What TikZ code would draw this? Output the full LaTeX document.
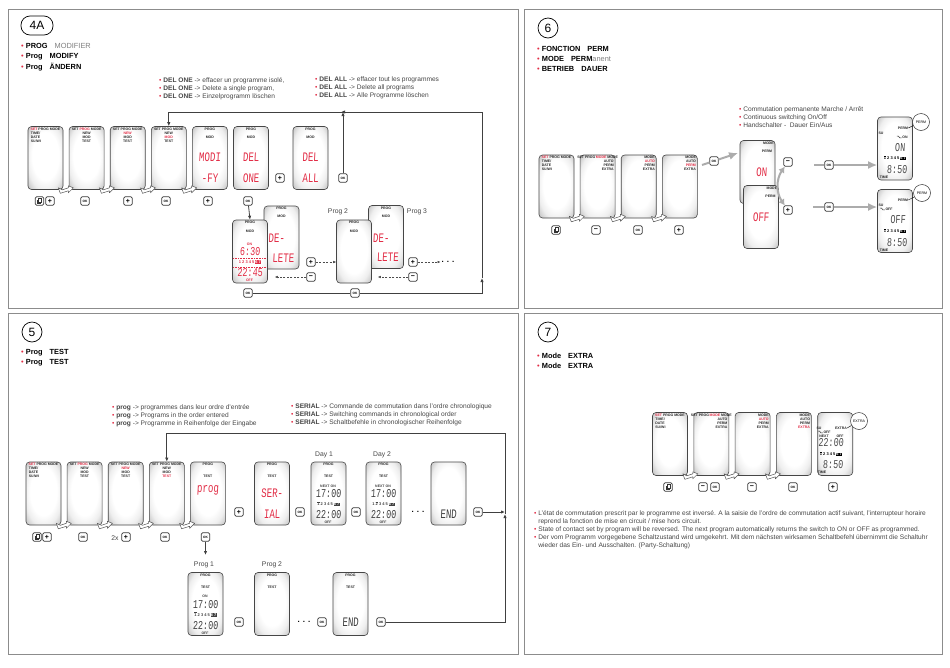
\documentclass[tikz,border=0pt]{standalone}
\usepackage{fontspec}
\setmainfont{Liberation Sans}
\newfontfamily\lcdFont[FakeStretch=0.7,FakeSlant=0.05]{Liberation Mono}
\usetikzlibrary{arrows.meta, positioning, calc, shapes.geometric}
\definecolor{lcdRed}{RGB}{226, 45, 70}
\definecolor{cText}{RGB}{70, 70, 70}
\definecolor{cFrame}{RGB}{140, 140, 140}
\definecolor{cEdgeA}{RGB}{238, 238, 238}
\definecolor{cEdgeB}{RGB}{205, 205, 205}
\definecolor{cEdgeC}{RGB}{125, 125, 125}
\pgfdeclareradialshading{lcdShade}{\pgfpoint{0bp}{3bp}}{color(0bp)=(white); color(19bp)=(white); color(27bp)=(cEdgeA); color(33bp)=(cEdgeB); color(42bp)=(cEdgeC)}
\newcommand{\redDot}{\textcolor{lcdRed}{\textbullet}\ }
\newcommand{\hot}[1]{\textcolor{lcdRed}{#1}}
\newcommand{\markDay}[1]{\leavevmode\rlap{\raisebox{3.4pt}{\rule{2.2pt}{0.6pt}}}#1}
\newcommand{\weekEnd}[1]{{\setlength{\fboxsep}{0.25pt}\colorbox{#1}{\textcolor{white}{6 7}}}}
\tikzset{
    % ecran
    lcdScreen/.style={
        rectangle, draw=gray!55!black, line width=0.6pt, rounded corners=3.5pt,
        minimum width=35pt, minimum height=63pt, inner sep=0pt,
        shade, shading=lcdShade
    },
    % petits textes
    lcdTiny/.style={
        inner sep=0pt, align=center, text=black!85,
        font=\fontsize{3.5}{4}\selectfont\bfseries
    },
    lcdDigit/.style={
        inner sep=0pt, text=lcdRed, font=\lcdFont\fontsize{13}{14}\selectfont
    },
    lcdClockDigit/.style={
        inner sep=0pt, font=\lcdFont\fontsize{12}{13}\selectfont
    },
    lcdDays/.style={
        inner sep=0pt, font=\fontsize{4}{4}\selectfont\bfseries
    },
    % touches
    keyBtn/.style={
        rectangle, draw=gray!45!black, line width=0.7pt, rounded corners=1.3pt, fill=white,
        minimum size=8.5pt, inner sep=0pt, font=\fontsize{3.2}{4}\selectfont\bfseries
    },
    keyBig/.style={keyBtn, font=\fontsize{7}{7}\selectfont\bfseries},
    % textes
    headNode/.style={
        anchor=west, align=left, inner sep=0pt, font=\fontsize{7.4}{10.2}\selectfont
    },
    noteNode/.style={
        anchor=north west, align=left, inner sep=0pt, text=cText,
        font=\fontsize{6.6}{8}\selectfont
    },
    labelNode/.style={inner sep=0pt, text=cText, font=\fontsize{6.8}{7}\selectfont},
    dotsNode/.style={inner sep=1pt, font=\fontsize{8}{8}\selectfont\bfseries},
    panelBox/.style={draw=cFrame, line width=1pt},
    badgeNode/.style={draw=black, line width=0.7pt, fill=white, inner sep=0pt, font=\fontsize{12}{12}\selectfont},
    bubbleNode/.style={circle, draw=gray!40!black, line width=0.5pt, fill=white, minimum size=17pt, inner sep=0pt, font=\rmfamily\fontsize{3.6}{4}\selectfont},
    % fleches
    flow/.style={line width=0.8pt, draw=black!75},
    flowTip/.style={flow, -{Latex[length=4pt,width=3.4pt]}},
    dashFlow/.style={line width=0.5pt, draw=gray!60!black, dashed, dash pattern=on 2pt off 1.5pt, -{Latex[length=3pt,width=2.6pt]}},
    fatLine/.style={line width=2pt, draw=gray!65},
    fatTip/.style={fatLine, -{Latex[length=9pt,width=8pt]}},
    % fleche creuse entre deux ecrans
    hopArrow/.pic={
        \draw[fill=white, draw=gray!65!black, line width=0.5pt, line join=round]
            (-5,-2) -- (-3,3.5) -- (5,1) -- (5,3) -- (10,-2) -- (5,-4) -- (5,-2) -- (-1,0) -- cycle;
    }
}
% menus
\newcommand{\setMenu}[1]{
    \node[lcdTiny, anchor=north] (#1Top) at ($(#1.north)+(0,1.2)$) {\hot{SET} PROG MODE};
    \node[lcdTiny, anchor=north west, align=left] (#1List) at ($(#1.north west)+(3,5.2)$) {TIME/\\DATE\\SU/WI};
}
\newcommand{\progMenu}[3]{
    \node[lcdTiny, anchor=north] (#1Top) at ($(#1.north)+(0,1.2)$) {SET #2 MODE};
    \node[lcdTiny, anchor=north] (#1List) at ($(#1.north)+(0,5.2)$) {#3};
}
\newcommand{\modeMenu}[3]{
    \node[lcdTiny, anchor=north east] (#1Top) at ($(#1.north east)+(-1.5,1.2)$) {#2};
    \node[lcdTiny, anchor=north east, align=right] (#1List) at ($(#1.north east)+(-1.5,5.2)$) {#3};
}
\newcommand{\progTag}[3]{
    \node[lcdTiny] (#1Tag) at ($(#1.north)+(0,2.8)$) {PROG};
    \node[lcdTiny] (#1Sub) at ($(#1.north)+(0,#3)$) {#2};
}
% affichage horaire
\newcommand{\clockFace}[6]{
    \node[lcdTiny, text=#2] (#1On) at ($(#1)+(-0.5,-7.5)$) {#3};
    \node[lcdClockDigit, text=#2] (#1Up) at ($(#1)+(0,0.5)$) {#4};
    \node[lcdDays, text=#2] (#1Days) at ($(#1)+(0,10.5)$) {#5\,\weekEnd{#2}};
    \node[lcdClockDigit, text=#2] (#1Low) at ($(#1)+(0,21.5)$) {#6};
    \node[lcdTiny, text=#2] (#1Off) at ($(#1)+(-0.5,28.8)$) {OFF};
}
\newcommand{\copyKey}[2]{
    \node[keyBtn] (#1) at #2 {};
    \draw[line width=0.5pt, draw=black!80] ($(#1)+(-2,-1)$) rectangle ($(#1)+(1,2.4)$);
    \draw[line width=0.5pt, draw=black!80, fill=white] ($(#1)+(-1,-2.4)$) rectangle ($(#1)+(2,1)$);
}
\newcommand{\switchMark}[1]{
    \draw[line width=0.5pt, draw=black!80] ($(#1.west)+(-0.5,0.8)$) -- ++(-2,0) -- ++(-1.2,-1.6) -- ++(-1.5,0);
}

\begin{document}
\begin{tikzpicture}[x=1pt, y=-1pt]
	\useasboundingbox (0,0) rectangle (950,667);
	\fill[white] (0,0) rectangle (950,667);

	% cadres
	\draw[panelBox] (8,9) rectangle (518,308);
	\draw[panelBox] (524,9) rectangle (942,308);
	\draw[panelBox] (8,313) rectangle (518,654);
	\draw[panelBox] (524,313) rectangle (942,654);

	%%%%% 4A

	\node[badgeNode, rectangle, rounded corners=9pt, minimum width=32pt, minimum height=19pt] (badgeA) at (37,25.5) {4A};
	\node[headNode] (headA) at (21,57) {
		\redDot\textbf{PROG}\hspace{7pt}\textcolor{gray}{MODIFIER}\\
		\redDot\textbf{Prog}\hspace{7pt}\textbf{MODIFY}\\
		\redDot\textbf{Prog}\hspace{7pt}\textbf{ÄNDERN}
	};
	\node[noteNode] (noteOne) at (159,77) {
		\redDot\textbf{DEL ONE} -> effacer un programme isolé,\\
		\redDot\textbf{DEL ONE} -> Delete a single program,\\
		\redDot\textbf{DEL ONE} -> Einzelprogramm löschen
	};
	\node[noteNode] (noteAll) at (315,77) {
		\redDot\textbf{DEL ALL} -> effacer tout les programmes\\
		\redDot\textbf{DEL ALL} -> Delete all programs\\
		\redDot\textbf{DEL ALL} -> Alle Programme löschen
	};

	% Premiere rangee
	\node[lcdScreen] (setA) at (45.5,158) {};
	\node[lcdScreen, right=5.5pt of setA] (progA) {};
	\node[lcdScreen, right=5.5pt of progA] (newA) {};
	\node[lcdScreen, right=5.5pt of newA] (modA) {};
	\node[lcdScreen, right=5.5pt of modA] (modifyA) {};
	\node[lcdScreen, right=5.5pt of modifyA] (delOneA) {};
	\node[lcdScreen] (delAllA) at (310.5,158) {};

	\setMenu{setA}
	\progMenu{progA}{\hot{PROG}}{NEW\\MOD\\TEST}
	\progMenu{newA}{PROG}{\hot{NEW}\\MOD\\TEST}
	\progMenu{modA}{PROG}{NEW\\\hot{MOD}\\TEST}
	\progTag{modifyA}{MOD}{10.8}
	\progTag{delOneA}{MOD}{10.8}
	\progTag{delAllA}{MOD}{10.8}
	\node[lcdDigit] (modifyUp) at ($(modifyA)+(0,-1)$) {MODI};
	\node[lcdDigit] (modifyLow) at ($(modifyA)+(0,20)$) {-FY};
	\node[lcdDigit] (delOneUp) at ($(delOneA)+(0,-1)$) {DEL};
	\node[lcdDigit] (delOneLow) at ($(delOneA)+(0,20)$) {ONE};
	\node[lcdDigit] (delAllUp) at ($(delAllA)+(0,-1)$) {DEL};
	\node[lcdDigit] (delAllLow) at ($(delAllA)+(0,20)$) {ALL};

	\pic at (setA.south east) {hopArrow};
	\pic at (progA.south east) {hopArrow};
	\pic at (newA.south east) {hopArrow};
	\pic at (modA.south east) {hopArrow};

	\copyKey{copyA}{(39.5,201)}
	\node[keyBig] (plusA) at (50,201) {+};
	\node[keyBtn] (okA) at (85,201) {OK};
	\node[keyBig] (plusB) at (128,201) {+};
	\node[keyBtn] (okB) at (166,201) {OK};
	\node[keyBig] (plusC) at (208,201) {+};
	\node[keyBtn] (okC) at (248,201) {OK};
	\node[keyBig] (plusD) at (280,178) {+};
	\node[keyBtn] (okD) at (343,178) {OK};

	% Seconde rangee
	\node[lcdScreen] (deleteA) at (281.5,237.5) {};
	\node[lcdScreen] (clockA) at (250,251.5) {};
	\node[lcdScreen] (deleteB) at (386,237) {};
	\node[lcdScreen] (blankA) at (354,251.5) {};

	\progTag{deleteA}{MOD}{11}
	\node[lcdDigit, anchor=west] (deleteAUp) at ($(deleteA.west)+(4.5,1)$) {DE-};
	\node[lcdDigit, anchor=east] (deleteALow) at ($(deleteA.east)+(-5,20.5)$) {LETE};
	\progTag{clockA}{MOD}{11.5}
	\clockFace{clockA}{lcdRed}{ON}{6:30}{1 2 3 4 5}{22:45}
	\draw[lcdRed, line width=0.4pt, dashed, dash pattern=on 1pt off 0.6pt] ($(clockA.west)+(1,6.5)$) -- ($(clockA.east)+(-1,6.5)$);
	\draw[lcdRed, line width=0.4pt, dashed, dash pattern=on 1pt off 0.6pt] ($(clockA.west)+(1,15.5)$) -- ($(clockA.east)+(-1,15.5)$);
	\progTag{deleteB}{MOD}{11}
	\node[lcdDigit, anchor=west] (deleteBUp) at ($(deleteB.west)+(4.5,1)$) {DE-};
	\node[lcdDigit, anchor=east] (deleteBLow) at ($(deleteB.east)+(-5,20.5)$) {LETE};
	\progTag{blankA}{MOD}{11.5}

	\node[labelNode] (progTwoA) at (338,212) {Prog 2};
	\node[labelNode] (progThreeA) at (417,212) {Prog 3};

	\node[keyBig] (plusE) at (311,262) {+};
	\node[keyBig] (minusE) at (311,277) {\textminus};
	\node[keyBig] (plusF) at (413,262) {+};
	\node[keyBig] (minusF) at (413,277) {\textminus};
	\node[keyBtn] (okE) at (248,293) {OK};
	\node[keyBtn] (okF) at (355,293) {OK};
	\node[dotsNode] (dotsA) at (448,262) {. . .};

	\draw[dashFlow] (plusE) -- (blankA.west |- plusE);
	\draw[dashFlow] (minusE) -- ($(minusE -| clockA.east)+(7,0)$);
	\draw[dashFlow] (plusF) -- (dotsA);
	\draw[dashFlow] (minusF) -- ($(minusF -| blankA.east)+(6,0)$);

	% Boucle
	\coordinate (loopBR) at (482,293);
	\coordinate (loopUp) at (482,278);
	\coordinate (loopTR) at (482,112);
	\coordinate (loopHit) at (343,112);
	\draw[flowTip] (okC) -- (clockA.north);
	\draw[flow] (okE) -- (okF);
	\draw[flowTip] (okF) -- (loopBR) -- (loopUp);
	\draw[flow] (loopUp) -- (loopTR) -- (loopHit);
	\draw[flowTip, shorten >=-2pt] (loopTR) -- (loopHit);
	\draw[flowTip] (loopHit) -| (modA.north);
	\draw[flowTip] (okD) -- (loopHit);

	%%%%% 6

	\node[badgeNode, circle, minimum size=20pt] (badgeP) at (548,28) {6};
	\node[headNode] (headP) at (537,59) {
		\redDot\textbf{FONCTION}\hspace{7pt}\textbf{PERM}\\
		\redDot\textbf{MODE}\hspace{7pt}\textbf{PERM}\textcolor{gray}{anent}\\
		\redDot\textbf{BETRIEB}\hspace{7pt}\textbf{DAUER}
	};
	\node[noteNode] (noteP) at (739,106) {
		\redDot Commutation permanente Marche / Arrêt\\
		\redDot Continuous switching On/Off\\
		\redDot Handschalter -\ \ Dauer Ein/Aus
	};

	\node[lcdScreen] (setP) at (556.5,186.5) {};
	\node[lcdScreen, right=5.5pt of setP] (modeP) {};
	\node[lcdScreen, right=5.5pt of modeP] (autoP) {};
	\node[lcdScreen, right=5.5pt of autoP] (permP) {};

	\setMenu{setP}
	\progMenu{modeP}{PROG\,\hot{MODE}}{}
	\modeMenu{modeP}{}{AUTO\\PERM\\EXTRA}
	\modeMenu{autoP}{MODE}{\hot{AUTO}\\PERM\\EXTRA}
	\modeMenu{permP}{MODE}{AUTO\\\hot{PERM}\\EXTRA}

	\pic at (setP.south east) {hopArrow};
	\pic at (modeP.south east) {hopArrow};
	\pic at (autoP.south east) {hopArrow};

	\copyKey{copyP}{(556,230)}
	\node[keyBig] (minusP) at (596,230) {\textminus};
	\node[keyBtn] (okP) at (638,230) {OK};
	\node[keyBig] (plusP) at (679,230) {+};

	\node[lcdScreen] (onP) at (757.5,172) {};
	\node[lcdScreen] (offP) at (761,217) {};
	\modeMenu{onP}{MODE}{}
	\node[lcdTiny, anchor=east] (onPerm) at ($(onP.north east)+(-3,11)$) {PERM};
	\node[lcdDigit] (onTxt) at ($(onP)+(4,0)$) {ON};
	\modeMenu{offP}{MODE}{}
	\node[lcdTiny, anchor=east] (offPerm) at ($(offP.north east)+(-3,11)$) {PERM};
	\node[lcdDigit] (offTxt) at ($(offP)+(0,0)$) {OFF};

	\coordinate (fatTail) at (702,165);
	\coordinate (fatTip) at (738,153);
	\node[keyBtn] (okQ) at (714,161) {OK};
	\draw[fatLine] (fatTail) -- (okQ);
	\draw[fatTip] (okQ) -- (fatTip);

	\node[keyBig] (minusQ) at (788,162) {\textminus};
	\node[keyBig] (plusQ) at (788,210) {+};
	\draw[fatLine, {Latex[length=6pt,width=7pt]}-{Latex[length=6pt,width=7pt]}] (minusQ) to[bend right=35] (plusQ);

	\node[lcdScreen] (resultOn) at (895,148.5) {};
	\node[lcdScreen] (resultOff) at (895,221) {};

	\coordinate (onTail) at (814,165);
	\node[keyBtn] (okR) at (829,165) {OK};
	\draw[fatLine] (onTail) -- (okR);
	\draw[fatTip] (okR) -- (resultOn.west |- okR);
	\coordinate (offTail) at (813,207);
	\node[keyBtn] (okS) at (829,207) {OK};
	\draw[fatLine] (offTail) -- (okS);
	\draw[fatTip] (okS) -- (resultOff.west |- okS);

	\node[lcdTiny] (onSu) at (881,133) {SU};
	\node[lcdTiny] (onPermB) at (903,128) {PERM};
	\node[lcdTiny] (onSw) at (905,137) {ON};
	\switchMark{onSw}
	\node[lcdClockDigit, text=black!70] (onBig) at (900,148) {ON};
	\node[lcdDays] (onDays) at (895,158) {\markDay{1} 2 3 4 5\,\weekEnd{black}};
	\node[lcdClockDigit, text=black!70] (onTime) at (897,170) {8:50};
	\node[lcdTiny] (onTimeTag) at (884,177) {TIME};
	\node[bubbleNode] (bubbleOn) at (921,122) {PERM};
	\draw[line width=0.4pt] (onPermB.east) -- (bubbleOn);

	\node[lcdTiny] (offPermB) at (903,200) {PERM};
	\node[lcdTiny] (offSu) at (881,205) {SU};
	\node[lcdTiny] (offSw) at (889,209) {OFF};
	\switchMark{offSw}
	\node[lcdClockDigit, text=black!70] (offBig) at (898,220) {OFF};
	\node[lcdDays] (offDays) at (895,231) {\markDay{1} 2 3 4 5\,\weekEnd{black}};
	\node[lcdClockDigit, text=black!70] (offTime) at (897,243) {8:50};
	\node[lcdTiny] (offTimeTag) at (884,250) {TIME};
	\node[bubbleNode] (bubbleOff) at (922,193) {PERM};
	\draw[line width=0.4pt] (offPermB.east) -- (bubbleOff);

	%%%%% 5

	\node[badgeNode, circle, minimum size=20pt] (badgeT) at (32,332) {5};
	\node[headNode] (headT) at (21,358) {
		\redDot\textbf{Prog}\hspace{7pt}\textbf{TEST}\\
		\redDot\textbf{Prog}\hspace{7pt}\textbf{TEST}
	};
	\node[noteNode] (noteProg) at (112,404) {
		\redDot\textbf{prog} -> programmes dans leur ordre d'entrée\\
		\redDot\textbf{prog} -> Programs in the order entered\\
		\redDot\textbf{prog} -> Programme in Reihenfolge der Eingabe
	};
	\node[noteNode] (noteSerial) at (291,404) {
		\redDot\textbf{SERIAL} -> Commande de commutation dans l'ordre chronologique\\
		\redDot\textbf{SERIAL} -> Switching commands in chronological order\\
		\redDot\textbf{SERIAL} -> Schaltbefehle in chronologischer Reihenfolge
	};

	\node[lcdScreen] (setT) at (43.5,493.5) {};
	\node[lcdScreen, right=5.5pt of setT] (progT) {};
	\node[lcdScreen, right=5.5pt of progT] (newT) {};
	\node[lcdScreen, right=5.5pt of newT] (testT) {};
	\node[lcdScreen, right=5.5pt of testT] (showT) {};
	\node[lcdScreen] (serialT) at (272,493.5) {};
	\node[lcdScreen] (dayOne) at (328.5,493.5) {};
	\node[lcdScreen] (dayTwo) at (383.5,493.5) {};
	\node[lcdScreen] (endT) at (448.5,493.5) {};

	\setMenu{setT}
	\progMenu{progT}{\hot{PROG}}{NEW\\MOD\\TEST}
	\progMenu{newT}{PROG}{\hot{NEW}\\MOD\\TEST}
	\progMenu{testT}{PROG}{NEW\\MOD\\\hot{TEST}}
	\progTag{showT}{TEST}{15}
	\node[lcdDigit] (showTxt) at ($(showT)+(0,-3)$) {prog};
	\progTag{serialT}{TEST}{15}
	\node[lcdDigit] (serialUp) at ($(serialT)+(0,0)$) {SER-};
	\node[lcdDigit] (serialLow) at ($(serialT)+(0,21)$) {IAL};
	\progTag{dayOne}{TEST}{15}
	\clockFace{dayOne}{black!75}{NEXT ON}{17:00}{\markDay{1} 2 3 4 5}{22:00}
	\progTag{dayTwo}{TEST}{15}
	\clockFace{dayTwo}{black!75}{NEXT ON}{17:00}{1 \markDay{2} 3 4 5}{22:00}
	\node[lcdDigit, text=black!75] (endTxt) at ($(endT)+(0,21)$) {END};

	\pic at (setT.south east) {hopArrow};
	\pic at (progT.south east) {hopArrow};
	\pic at (newT.south east) {hopArrow};
	\pic at (testT.south east) {hopArrow};

	\node[labelNode] (dayOneTag) at (324,455) {Day 1};
	\node[labelNode] (dayTwoTag) at (382,455) {Day 2};

	\copyKey{copyT}{(37,537)}
	\node[keyBig] (plusT) at (47,537) {+};
	\node[keyBtn] (okT) at (83,537) {OK};
	\node[labelNode] (twiceT) at (115,538) {2x};
	\node[keyBig] (plusU) at (126,537) {+};
	\node[keyBtn] (okU) at (165,537) {OK};
	\node[keyBtn] (okV) at (205.5,537) {OK};
	\node[keyBig] (plusV) at (239,512) {+};
	\node[keyBtn] (okW) at (300,512) {OK};
	\node[keyBtn] (okX) at (356,512) {OK};
	\node[dotsNode] (dotsT) at (418,512) {. . .};
	\node[keyBtn] (okY) at (478,512) {OK};

	% Seconde rangee
	\node[labelNode] (progOneTag) at (204,565) {Prog 1};
	\node[labelNode] (progTwoTag) at (272,565) {Prog 2};
	\node[lcdScreen] (progOne) at (205.5,604) {};
	\node[lcdScreen] (progTwo) at (272,604) {};
	\node[lcdScreen] (progEnd) at (350.5,604) {};
	\progTag{progOne}{TEST}{15}
	\clockFace{progOne}{black!75}{ON}{17:00}{\markDay{1} 2 3 4 5}{22:00}
	\progTag{progTwo}{TEST}{15}
	\progTag{progEnd}{TEST}{15}
	\node[lcdDigit, text=black!75] (progEndTxt) at ($(progEnd)+(0,18)$) {END};

	\node[keyBtn] (okZ) at (239,622) {OK};
	\node[dotsNode] (dotsU) at (304,622) {. . .};
	\node[keyBtn] (okZa) at (322,622) {OK};
	\node[keyBtn] (okZb) at (381,622) {OK};

	\coordinate (testBR) at (505,622);
	\coordinate (testUp) at (505,514);
	\coordinate (testTR) at (505,433);
	\coordinate (okVEnd) at (205.5,555);
	\draw[flowTip] (okV) -- (okVEnd);
	\draw[flowTip] (okY) -- (okY -| testBR);
	\draw[flowTip] (okZb) -- (testBR) -- (testUp);
	\draw[flow] (testUp) -- (testTR);
	\draw[flowTip] (testTR) -| (testT.north);

	%%%%% 7

	\node[badgeNode, circle, minimum size=20pt] (badgeE) at (548,332) {7};
	\node[headNode] (headE) at (537,361) {
		\redDot\textbf{Mode}\hspace{7pt}\textbf{EXTRA}\\
		\redDot\textbf{Mode}\hspace{7pt}\textbf{EXTRA}
	};

	\node[lcdScreen] (setE) at (670,444) {};
	\node[lcdScreen, right=5.7pt of setE] (modeE) {};
	\node[lcdScreen, right=5.7pt of modeE] (autoE) {};
	\node[lcdScreen, right=5.7pt of autoE] (extraE) {};
	\node[lcdScreen, right=5.7pt of extraE] (showE) {};

	\setMenu{setE}
	\progMenu{modeE}{PROG\,\hot{MODE}}{}
	\modeMenu{modeE}{}{AUTO\\PERM\\EXTRA}
	\modeMenu{autoE}{MODE}{\hot{AUTO}\\PERM\\EXTRA}
	\modeMenu{extraE}{MODE}{AUTO\\PERM\\\hot{EXTRA}}

	\pic at (setE.south east) {hopArrow};
	\pic at (modeE.south east) {hopArrow};
	\pic at (autoE.south east) {hopArrow};

	\node[lcdTiny] (eSu) at (819,428) {SU};
	\node[lcdTiny] (eExtra) at (841,428) {EXTRA};
	\node[lcdTiny] (eSw) at (827,432) {OFF};
	\switchMark{eSw}
	\node[lcdTiny] (eNext) at (824,436) {NEXT};
	\node[lcdTiny] (eOff) at (840,436) {OFF};
	\node[lcdClockDigit, text=black!70] (eUp) at (831,443) {22:00};
	\node[lcdDays] (eDays) at (831,454) {\markDay{1} 2 3 4 5\,\weekEnd{black}};
	\node[lcdClockDigit, text=black!70] (eLow) at (833,465) {8:50};
	\node[lcdTiny] (eTime) at (822,472) {TIME};
	\node[bubbleNode] (bubbleE) at (859,421) {EXTRA};
	\draw[line width=0.4pt] (eExtra.east) -- (bubbleE);

	\copyKey{copyE}{(668,487)}
	\node[keyBig] (minusE1) at (703,487) {\textminus};
	\node[keyBtn] (okE1) at (715,487) {OK};
	\node[keyBig] (minusE2) at (752,487) {\textminus};
	\node[keyBtn] (okE2) at (793,487) {OK};
	\node[keyBig] (plusE1) at (833,487) {+};

	\node[noteNode] (noteE) at (534,510) {
		\redDot L'état de commutation prescrit par le programme est inversé. A la saisie de l'ordre de commutation actif suivant, l'interrupteur horaire\\
		\hphantom{\redDot}reprend la fonction de mise en circuit / mise hors circuit.\\
		\redDot State of contact set by program will be reversed. The next program automatically returns the switch to ON or OFF as programmed.\\
		\redDot Der vom Programm vorgegebene Schaltzustand wird umgekehrt. Mit dem nächsten wirksamen Schaltbefehl übernimmt die Schaltuhr\\
		\hphantom{\redDot}wieder das Ein- und Ausschalten. (Party-Schaltung)
	};

\end{tikzpicture}
\end{document}
